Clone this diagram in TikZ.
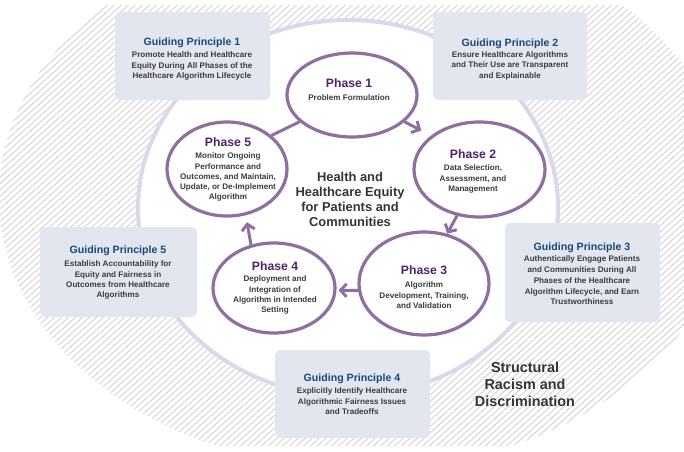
\documentclass[tikz,border=0pt]{standalone}
\usepackage{fontspec}
\setmainfont{Liberation Sans}
\usetikzlibrary{shapes.geometric,arrows.meta}

\definecolor{hatchgray}{HTML}{D4D4D4}
\definecolor{ringlav}{HTML}{DCD8EC}
\definecolor{boxfill}{HTML}{E3E6EF}
\definecolor{gpblue}{HTML}{184A7A}
\definecolor{bodygray}{HTML}{3C3C3C}
\definecolor{phaseline}{HTML}{8F6F9F}
\definecolor{phasetitle}{HTML}{522268}
\definecolor{centergray}{HTML}{353535}

\begin{document}
\begin{tikzpicture}[x=1pt,y=-1pt,
  phase/.style={ellipse, draw=phaseline, line width=3.2pt, fill=white, inner sep=0pt},
  gpbox/.style={rectangle, fill=boxfill, rounded corners=5pt, inner sep=0pt},
  link/.style={draw=phaseline, line width=3pt},
  arr/.style={link, -{Straight Barb[length=6pt,width=13pt]}},
  gptitle/.style={font=\bfseries\fontsize{10.6}{12}\selectfont, text=gpblue, inner sep=0pt, anchor=base},
  phtitle/.style={font=\bfseries\fontsize{12.2}{14}\selectfont, text=phasetitle, inner sep=0pt, anchor=base},
  body/.style={font=\bfseries\fontsize{8.1}{10.3}\selectfont, text=bodygray, align=center, inner sep=0pt, anchor=north},
  bigtext/.style={font=\bfseries\fontsize{12.9}{15}\selectfont, text=centergray, align=center, inner sep=0pt, anchor=north},
  hatch/.style={draw=hatchgray, line width=0.9pt}]

\useasboundingbox (0,0) rectangle (684,451);
\fill[white] (0,0) rectangle (684,451);

% hatched outer band
\begin{scope}
  \clip (0,5) rectangle (684,445);
  \clip (364,197) ellipse [x radius=365pt, y radius=272pt];
  \foreach \i in {-520,-513,...,700}
    \draw[hatch] (\i,450) -- ({\i+500},0);
\end{scope}

% inner white field with lavender rim
\draw[draw=ringlav, line width=4pt, fill=white] (348,208) ellipse [x radius=210pt, y radius=188pt];

% guiding principle boxes
\node[gpbox, minimum width=155pt, minimum height=88pt] (g1) at (192.5,56) {};
\node[gpbox, minimum width=154pt, minimum height=88pt] (g2) at (510,56) {};
\node[gpbox, minimum width=155pt, minimum height=99pt] (g3) at (582.5,272.5) {};
\node[gpbox, minimum width=155pt, minimum height=88pt] (g4) at (352.5,394) {};
\node[gpbox, minimum width=157pt, minimum height=90pt] (g5) at (118.5,272) {};

\node[gptitle] (g1t) at (192,45.8) {Guiding Principle 1};
\node[body] (g1b) at (192,51.7) {Promote Health and Healthcare\\Equity During All Phases of the\\Healthcare Algorithm Lifecycle};
\node[gptitle] (g2t) at (510,46) {Guiding Principle 2};
\node[body] (g2b) at (510,51.5) {Ensure Healthcare Algorithms\\and Their Use are Transparent\\and Explainable};
\node[gptitle] (g3t) at (582,250.8) {Guiding Principle 3};
\node[body, font=\bfseries\fontsize{8.1}{10.8}\selectfont] (g3b) at (582,255.7) {Authentically Engage Patients\\and Communities During All\\Phases of the Healthcare\\Algorithm Lifecycle, and Earn\\Trustworthiness};
\node[gptitle] (g4t) at (352,381.8) {Guiding Principle 4};
\node[body] (g4b) at (352,387.7) {Explicitly Identify Healthcare\\Algorithmic Fairness Issues\\and Tradeoffs};
\node[gptitle] (g5t) at (118,253.8) {Guiding Principle 5};
\node[body] (g5b) at (118,260.7) {Establish Accountability for\\Equity and Fairness in\\Outcomes from Healthcare\\Algorithms};

% lifecycle phases
\node[phase, minimum width=130pt, minimum height=84pt] (p1) at (352,95) {};
\node[phase, minimum width=131pt, minimum height=95pt] (p2) at (479.5,169.5) {};
\node[phase, minimum width=130pt, minimum height=103pt] (p3) at (424,283.5) {};
\node[phase, minimum width=122pt, minimum height=90pt] (p4) at (274,288) {};
\node[phase, minimum width=120pt, minimum height=94pt] (p5) at (227,169) {};

% cycle connectors
\draw[arr, shorten >=11pt] (p1.-27) -- (p2.145);
\draw[arr] (p2.-116) -- (p3.65);
\draw[arr, shorten >=2pt] (p3.186) -- (p4.-2);
\draw[arr, shorten >=7pt] (p4.118) -- (p5.-68);
\draw[link] (p5.37) -- (p1.207);

\node[phtitle] (p1t) at (349,87.7) {Phase 1};
\node[body] (p1b) at (349,94.4) {Problem Formulation};
\node[phtitle] (p2t) at (473,158.4) {Phase 2};
\node[body] (p2b) at (473,164.7) {Data Selection,\\Assessment, and\\Management};
\node[phtitle] (p3t) at (424,274.4) {Phase 3};
\node[body] (p3b) at (424,281.7) {Algorithm\\Development, Training,\\and Validation};
\node[phtitle] (p4t) at (275,270.4) {Phase 4};
\node[body] (p4b) at (275,275.7) {Deployment and\\Integration of\\Algorithm in Intended\\Setting};
\node[phtitle] (p5t) at (228,146.1) {Phase 5};
\node[body] (p5b) at (228,152.7) {Monitor Ongoing\\Performance and\\Outcomes, and Maintain,\\Update, or De-Implement\\Algorithm};

% central and outer captions
\node[bigtext] (core) at (350,172.2) {Health and\\Healthcare Equity\\for Patients and\\Communities};
\node[bigtext, font=\bfseries\fontsize{14.4}{17}\selectfont] (outer) at (525,361.7) {Structural\\Racism and\\Discrimination};

\end{tikzpicture}
\end{document}
